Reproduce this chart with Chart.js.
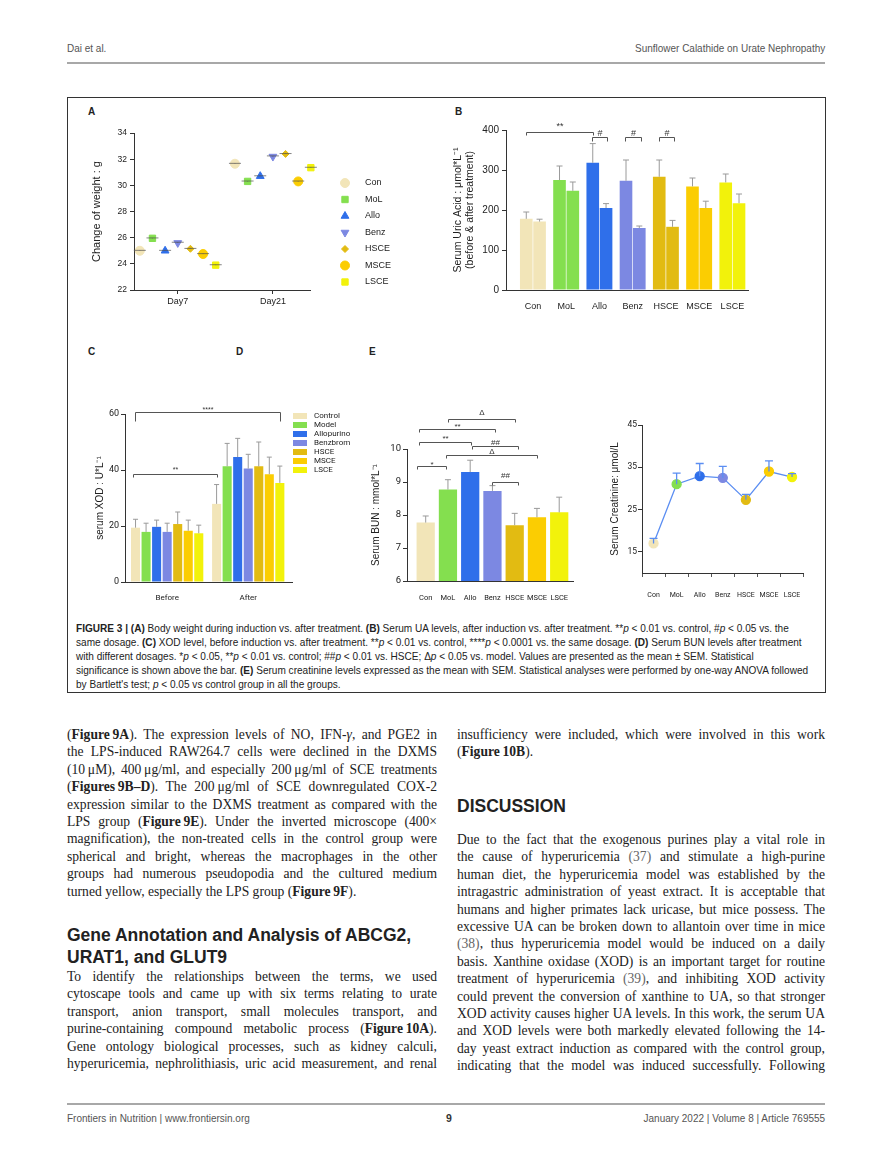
<!DOCTYPE html>
<html>
<head>
<meta charset="UTF-8">
<title>Figure 3 - Sunflower Calathide on Urate Nephropathy</title>
<script src="https://cdn.jsdelivr.net/npm/chart.js@4.4.1/dist/chart.umd.min.js"></script>
<style>
  body { margin: 0; width: 892px; height: 1169px; position: relative; background: #fff; color: #222; font-family: 'Liberation Serif', 'Times New Roman', serif; }
  .hdr { position: absolute; font-family: 'Liberation Sans', Arial, sans-serif; font-size: 10.5px; color: #555; line-height: 14px; white-space: nowrap; }
  .hdr.r { transform: scaleX(0.95); transform-origin: right center; }
  .hdr.lft { transform: scaleX(0.95); transform-origin: left center; }
  .rule { position: absolute; left: 67px; width: 758px; height: 1.5px; background: #a8a8a8; }
  #figbox { position: absolute; left: 67px; top: 97px; width: 757px; height: 594px; border: 1px solid #333; }
  .plabel { position: absolute; font-family: 'Liberation Sans', Arial, sans-serif; font-weight: bold; font-size: 10px; }
  .chart { position: absolute; }
  .caption { position: absolute; left: 76px; top: 621px; font-family: 'Liberation Sans', Arial, sans-serif; font-size: 11px; line-height: 14px; color: #222; white-space: nowrap; transform: scaleX(0.915); transform-origin: left top; }
  .col { position: absolute; font-size: 13.6px; line-height: 17.4px; color: #222; }
  .col .j { text-align: justify; text-align-last: justify; }
  .col .l { text-align: left; }
  .ref { color: #666; }
  .head { position: absolute; font-family: 'Liberation Sans', Arial, sans-serif; font-weight: bold; font-size: 17.5px; line-height: 22px; color: #222; white-space: nowrap; }
</style>
</head>
<body>
  <div class="hdr lft" style="left:67px; top:41px;">Dai et al.</div>
  <div class="hdr r" style="right:67px; top:41px;">Sunflower Calathide on Urate Nephropathy</div>
  <div class="rule" style="top:62px;"></div>

  <div id="figbox"></div>
  <div class="plabel" style="left:88px; top:106px;">A</div>
  <div class="plabel" style="left:455px; top:106px;">B</div>
  <div class="plabel" style="left:88px; top:346px;">C</div>
  <div class="plabel" style="left:236px; top:346px;">D</div>
  <div class="plabel" style="left:369px; top:346px;">E</div>

  <div class="chart" style="left:80px; top:100px; width:330px; height:210px;"><canvas id="weightChart"></canvas></div>
  <div class="chart" style="left:440px; top:100px; width:370px; height:210px;"><canvas id="uaChart"></canvas></div>
  <div class="chart" style="left:80px; top:395px; width:270px; height:210px;"><canvas id="xodChart"></canvas></div>
  <div class="chart" style="left:360px; top:395px; width:250px; height:210px;"><canvas id="bunChart"></canvas></div>
  <div class="chart" style="left:600px; top:410px; width:215px; height:195px;"><canvas id="creaChart"></canvas></div>

  <div class="caption">
    <div><b>FIGURE 3 | (A)</b> Body weight during induction vs. after treatment. <b>(B)</b> Serum UA levels, after induction vs. after treatment. **<i>p</i> &lt; 0.01 vs. control, #<i>p</i> &lt; 0.05 vs. the</div>
    <div>same dosage. <b>(C)</b> XOD level, before induction vs. after treatment. **<i>p</i> &lt; 0.01 vs. control, ****<i>p</i> &lt; 0.0001 vs. the same dosage. <b>(D)</b> Serum BUN levels after treatment</div>
    <div>with different dosages. *<i>p</i> &lt; 0.05, **<i>p</i> &lt; 0.01 vs. control; ##<i>p</i> &lt; 0.01 vs. HSCE; Δ<i>p</i> &lt; 0.05 vs. model. Values are presented as the mean ± SEM. Statistical</div>
    <div>significance is shown above the bar. <b>(E)</b> Serum creatinine levels expressed as the mean with SEM. Statistical analyses were performed by one-way ANOVA followed</div>
    <div>by Bartlett's test; <i>p</i> &lt; 0.05 vs control group in all the groups.</div>
  </div>

  <div class="col" style="left:67px; top:726px; width:370px;">
    <div class="j">(<b>Figure&thinsp;9A</b>). The expression levels of NO, IFN-<i>γ</i>, and PGE2 in</div>
    <div class="j">the LPS-induced RAW264.7 cells were declined in the DXMS</div>
    <div class="j">(10&thinsp;μM), 400&thinsp;μg/ml, and especially 200&thinsp;μg/ml of SCE treatments</div>
    <div class="j">(<b>Figures&thinsp;9B–D</b>). The 200&thinsp;μg/ml of SCE downregulated COX-2</div>
    <div class="j">expression similar to the DXMS treatment as compared with the</div>
    <div class="j">LPS group (<b>Figure&thinsp;9E</b>). Under the inverted microscope (400×</div>
    <div class="j">magnification), the non-treated cells in the control group were</div>
    <div class="j">spherical and bright, whereas the macrophages in the other</div>
    <div class="j">groups had numerous pseudopodia and the cultured medium</div>
    <div class="l">turned yellow, especially the LPS group (<b>Figure&thinsp;9F</b>).</div>
  </div>

  <div class="head" style="left:67px; top:924px;">Gene Annotation and Analysis of ABCG2,<br>URAT1, and GLUT9</div>

  <div class="col" style="left:67px; top:968px; width:370px;">
    <div class="j">To identify the relationships between the terms, we used</div>
    <div class="j">cytoscape tools and came up with six terms relating to urate</div>
    <div class="j">transport, anion transport, small molecules transport, and</div>
    <div class="j">purine-containing compound metabolic process (<b>Figure&thinsp;10A</b>).</div>
    <div class="j">Gene ontology biological processes, such as kidney calculi,</div>
    <div class="j">hyperuricemia, nephrolithiasis, uric acid measurement, and renal</div>
  </div>

  <div class="col" style="left:457px; top:726px; width:368px;">
    <div class="j">insufficiency were included, which were involved in this work</div>
    <div class="l">(<b>Figure&thinsp;10B</b>).</div>
  </div>

  <div class="head" style="left:457px; top:795px;">DISCUSSION</div>

  <div class="col" style="left:457px; top:831px; width:368px;">
    <div class="j">Due to the fact that the exogenous purines play a vital role in</div>
    <div class="j">the cause of hyperuricemia <span class="ref">(37)</span> and stimulate a high-purine</div>
    <div class="j">human diet, the hyperuricemia model was established by the</div>
    <div class="j">intragastric administration of yeast extract. It is acceptable that</div>
    <div class="j">humans and higher primates lack uricase, but mice possess. The</div>
    <div class="j">excessive UA can be broken down to allantoin over time in mice</div>
    <div class="j"><span class="ref">(38)</span>, thus hyperuricemia model would be induced on a daily</div>
    <div class="j">basis. Xanthine oxidase (XOD) is an important target for routine</div>
    <div class="j">treatment of hyperuricemia <span class="ref">(39)</span>, and inhibiting XOD activity</div>
    <div class="j">could prevent the conversion of xanthine to UA, so that stronger</div>
    <div class="j">XOD activity causes higher UA levels. In this work, the serum UA</div>
    <div class="j">and XOD levels were both markedly elevated following the 14-</div>
    <div class="j">day yeast extract induction as compared with the control group,</div>
    <div class="j">indicating that the model was induced successfully. Following</div>
  </div>

  <div class="rule" style="top:1103px;"></div>
  <div class="hdr lft" style="left:67px; top:1111px;">Frontiers in Nutrition | www.frontiersin.org</div>
  <div class="hdr" style="left:446px; top:1111px; color:#333; font-weight:bold;">9</div>
  <div class="hdr r" style="right:67px; top:1111px;">January 2022 | Volume 8 | Article 769555</div>

<script>
  // groups and colours shared by all panels
  const groups = ['Con', 'MoL', 'Allo', 'Benz', 'HSCE', 'MSCE', 'LSCE'];
  const groupNames = ['Control', 'Model', 'Allopurinol', 'Benzbromarone', 'HSCE', 'MSCE', 'LSCE'];
  const groupColors = ['#f2e5b8', '#84df4f', '#2f6fea', '#7c88e2', '#e2bb12', '#fbcd02', '#f2f20b'];

  // (A) body weight
  const dayLabels = ['Day7', 'Day21'];
  const weightDay7 = [25.0, 25.95, 25.0, 25.6, 25.15, 24.75, 23.9];
  const weightDay21 = [31.65, 30.3, 30.7, 32.2, 32.4, 30.3, 31.35];
  const weightErr7 = [0.03, 0.03, 0.03, 0.05, 0.03, 0.03, 0.03];
  const weightErr21 = [0.03, 0.03, 0.03, 0.05, 0.03, 0.03, 0.03];
  const weightMarkers = ['circle', 'rect', 'triangle', 'triangle', 'rectRot', 'circle', 'rect'];
  const weightRotation = [0, 0, 0, 180, 0, 0, 0];

  // (B) serum uric acid, before and after treatment
  const uaBefore = [178, 275, 318, 273, 283, 259, 269];
  const uaBeforeErr = [17, 35, 48, 52, 42, 21, 21];
  const uaAfter = [171, 248, 205, 155, 158, 205, 217];
  const uaAfterErr = [6, 22, 11, 5, 16, 17, 23];
  const uaSig = [
    { from: -0.2, to: 1.8, at: 395, text: '**', tick: 3, gap: 4 },
    { from: 1.78, to: 2.24, at: 382, text: '#', tick: 4, gap: 2 },
    { from: 2.78, to: 3.24, at: 382, text: '#', tick: 4, gap: 2 },
    { from: 3.78, to: 4.24, at: 382, text: '#', tick: 4, gap: 2 }
  ];

  // (C) serum XOD
  const xodPhases = ['Before', 'After'];
  const xodBefore = [19.4, 17.9, 19.7, 17.9, 20.7, 18.3, 17.4];
  const xodBeforeErr = [3.0, 3.1, 2.4, 3.1, 4.3, 3.8, 2.9];
  const xodAfter = [27.9, 41.3, 44.6, 40.5, 41.3, 38.5, 35.4];
  const xodAfterErr = [6.9, 8.2, 6.7, 5.1, 8.7, 6.1, 6.0];
  const xodSig = [
    { from: -0.4, to: 1.39, at: 60.7, text: '****', tick: 9, gap: 1 },
    { from: -0.42, to: 0.62, at: 38.6, text: '**', tick: 3, gap: 3 }
  ];

  // (D) serum BUN
  const bunValues = [7.77, 8.77, 9.30, 8.73, 7.69, 7.93, 8.08];
  const bunErr = [0.20, 0.30, 0.36, 0.16, 0.36, 0.27, 0.46];
  const bunSig = [
    { from: 1.0, to: 4.0, at: 10.9, text: 'Δ', tick: 3, gap: 5 },
    { from: -0.3, to: 3.1, at: 10.6, text: '**', tick: 3, gap: 1 },
    { from: -0.3, to: 2.05, at: 10.2, text: '**', tick: 3, gap: 2 },
    { from: 2.08, to: 4.15, at: 10.08, text: '##', tick: 3, gap: 2 },
    { from: 0.9, to: 5.0, at: 9.82, text: 'Δ', tick: 3, gap: 2 },
    { from: -0.4, to: 0.9, at: 9.5, text: '*', tick: 3, gap: 0 },
    { from: 3.0, to: 4.15, at: 9.0, text: '##', tick: 3, gap: 5 }
  ];

  // (E) serum creatinine
  const creaValues = [17.0, 31.0, 32.9, 32.5, 27.3, 34.0, 32.7];
  const creaErr = [1.2, 2.6, 3.0, 2.7, 1.3, 2.5, 0.8];
  const creaTicks = [15, 25, 35, 45];

  const SANS = "'Liberation Sans', Arial, sans-serif";
  const NARROW = "Roboto, 'Liberation Sans', sans-serif";

  Chart.defaults.animation = false;
  Chart.defaults.color = '#222';
  Chart.defaults.font.family = SANS;
  Chart.defaults.plugins.legend.display = false;
  Chart.defaults.plugins.tooltip.enabled = false;

  const axisGrid = { drawOnChartArea: false, tickLength: 4, color: '#333', lineWidth: 1 };
  const axisBorder = { color: '#333', width: 1 };

  function errorBars(errs, color, cap, width) {
    return {
      id: 'errorBars',
      afterDatasetsDraw(chart) {
        const ctx = chart.ctx;
        const ys = chart.scales.y;
        ctx.save();
        ctx.strokeStyle = color;
        ctx.lineWidth = width;
        errs.forEach((arr, di) => {
          const meta = chart.getDatasetMeta(di);
          const raw = chart.data.datasets[di].data;
          meta.data.forEach((el, j) => {
            const v = typeof raw[j] === 'object' ? raw[j].y : raw[j];
            const yTop = ys.getPixelForValue(v + arr[j]);
            ctx.beginPath();
            ctx.moveTo(el.x, el.y);
            ctx.lineTo(el.x, yTop);
            ctx.moveTo(el.x - cap, yTop);
            ctx.lineTo(el.x + cap, yTop);
            ctx.stroke();
          });
        });
        ctx.restore();
      }
    };
  }

  function sigBrackets(list, font) {
    return {
      id: 'sigBrackets',
      afterDraw(chart) {
        const ctx = chart.ctx;
        const xs = chart.scales.x, ys = chart.scales.y;
        ctx.save();
        ctx.strokeStyle = '#555';
        ctx.lineWidth = 1;
        ctx.fillStyle = '#333';
        ctx.font = font;
        ctx.textAlign = 'center';
        ctx.textBaseline = 'alphabetic';
        list.forEach(s => {
          const x1 = Math.round(xs.getPixelForValue(s.from)) + 0.5;
          const x2 = Math.round(xs.getPixelForValue(s.to)) + 0.5;
          const y = Math.round(ys.getPixelForValue(s.at)) + 0.5;
          ctx.beginPath();
          ctx.moveTo(x1, y + s.tick);
          ctx.lineTo(x1, y);
          ctx.lineTo(x2, y);
          ctx.lineTo(x2, y + s.tick);
          ctx.stroke();
          ctx.fillText(s.text, (x1 + x2) / 2, y - s.gap);
        });
        ctx.restore();
      }
    };
  }

  // (A) scatter of body weight, groups dodged around each day
  const dodge = i => (i - 3) * 0.133;
  const weightLegend = {
    id: 'weightLegend',
    afterDraw(chart) {
      const ctx = chart.ctx;
      const area = chart.chartArea;
      ctx.save();
      ctx.font = '9px ' + SANS;
      ctx.textBaseline = 'middle';
      chart.data.datasets.forEach((ds, i) => {
        const y = area.top + 50 + i * 16.5;
        ctx.fillStyle = ds.backgroundColor;
        ctx.strokeStyle = ds.borderColor;
        Chart.helpers.drawPoint(ctx, { pointStyle: ds.pointStyle, radius: ds.pointRadius, rotation: ds.rotation, borderWidth: 1 }, area.right + 35, y);
        ctx.fillStyle = '#222';
        ctx.fillText(ds.label, area.right + 55, y);
      });
      ctx.restore();
    }
  };

  new Chart(document.getElementById('weightChart'), {
    type: 'scatter',
    data: {
      datasets: groups.map((g, i) => ({
        label: g,
        data: [{ x: 0 + dodge(i), y: weightDay7[i] }, { x: 1 + dodge(i), y: weightDay21[i] }],
        pointStyle: weightMarkers[i],
        rotation: weightRotation[i],
        pointRadius: weightMarkers[i] === 'rectRot' ? 3.5 : 4.5,
        backgroundColor: groupColors[i],
        borderColor: groupColors[i],
        clip: false
      }))
    },
    options: {
      responsive: true,
      maintainAspectRatio: false,
      layout: { padding: { top: 33, right: 100, left: 0, bottom: 0 } },
      scales: {
        x: {
          type: 'linear', min: -0.46, max: 1.39,
          afterBuildTicks: s => { s.ticks = [{ value: 0 }, { value: 1 }]; },
          ticks: { callback: v => dayLabels[v], font: { size: 9 }, padding: 2, maxRotation: 0 },
          grid: axisGrid, border: axisBorder,
          afterFit: s => { s.height = 20; }
        },
        y: {
          min: 22, max: 34,
          ticks: { stepSize: 2, font: { size: 8.5 }, padding: 3 },
          grid: axisGrid, border: axisBorder,
          title: { display: true, text: 'Change of weight : g', font: { size: 11 }, padding: { top: 10, bottom: 0 } },
          afterFit: s => { s.width = 54; }
        }
      }
    },
    plugins: [errorBars(groups.map((g, i) => [weightErr7[i], weightErr21[i]]), 'rgba(80,80,80,0.7)', 6, 1), weightLegend]
  });

  // (B) serum uric acid
  new Chart(document.getElementById('uaChart'), {
    type: 'bar',
    data: {
      datasets: [
        { label: 'before', data: uaBefore.map((v, i) => ({ x: i, y: v })), backgroundColor: groupColors },
        { label: 'after', data: uaAfter.map((v, i) => ({ x: i, y: v })), backgroundColor: groupColors }
      ]
    },
    options: {
      responsive: true,
      maintainAspectRatio: false,
      categoryPercentage: 0.8,
      barPercentage: 0.95,
      layout: { padding: { top: 30, right: 62, left: 0, bottom: 0 } },
      scales: {
        x: {
          type: 'linear', offset: false, min: -0.81, max: 6.47,
          afterBuildTicks: s => { s.ticks = groups.map((g, i) => ({ value: i })); },
          ticks: { callback: v => groups[v], font: { size: 9 }, padding: 3, maxRotation: 0, autoSkip: false },
          grid: { display: false }, border: axisBorder,
          afterFit: s => { s.height = 20; }
        },
        y: {
          min: 0, max: 400,
          ticks: { stepSize: 100, font: { size: 10 }, padding: 3 },
          grid: axisGrid, border: axisBorder,
          title: { display: true, text: ['Serum Uric Acid : μmol*L⁻¹', '(before & after treatment)'], font: { size: 10.5, lineHeight: 1.15 }, padding: { top: 12, bottom: 0 } },
          afterFit: s => { s.width = 66; }
        }
      }
    },
    plugins: [errorBars([uaBeforeErr, uaAfterErr], '#9a9a9a', 3, 1), sigBrackets(uaSig, '9px ' + SANS)]
  });

  // (C) serum XOD before / after
  const xodLegend = {
    id: 'xodLegend',
    afterDraw(chart) {
      const ctx = chart.ctx;
      const area = chart.chartArea;
      ctx.save();
      ctx.font = '8px ' + NARROW;
      ctx.textBaseline = 'middle';
      groupNames.forEach((name, i) => {
        const y = area.top + 2 + i * 9;
        ctx.fillStyle = groupColors[i];
        ctx.fillRect(area.right + 1, y - 3, 14, 6);
        ctx.fillStyle = '#222';
        ctx.fillText(name, area.right + 22, y);
      });
      ctx.restore();
    }
  };

  new Chart(document.getElementById('xodChart'), {
    type: 'bar',
    data: {
      datasets: groupNames.map((g, i) => ({
        label: g,
        data: [{ x: 0, y: xodBefore[i] }, { x: 1, y: xodAfter[i] }],
        backgroundColor: groupColors[i]
      }))
    },
    options: {
      responsive: true,
      maintainAspectRatio: false,
      categoryPercentage: 0.91,
      barPercentage: 0.86,
      layout: { padding: { top: 19, right: 58, left: 0, bottom: 0 } },
      scales: {
        x: {
          type: 'linear', offset: false, min: -0.52, max: 1.54,
          afterBuildTicks: s => { s.ticks = [{ value: 0 }, { value: 1 }]; },
          ticks: { callback: v => xodPhases[v], font: { size: 8, family: NARROW }, padding: 3, maxRotation: 0 },
          grid: { display: false }, border: axisBorder,
          afterFit: s => { s.height = 23; }
        },
        y: {
          min: 0, max: 60,
          ticks: { stepSize: 20, font: { size: 9, family: NARROW }, padding: 2 },
          grid: axisGrid, border: axisBorder,
          title: { display: true, text: 'serum XOD : U*L⁻¹', font: { size: 10 }, padding: { top: 14, bottom: 0 } },
          afterFit: s => { s.width = 45; }
        }
      }
    },
    plugins: [errorBars(groupNames.map((g, i) => [xodBeforeErr[i], xodAfterErr[i]]), '#9a9a9a', 2.5, 1),
              sigBrackets(xodSig, '7px ' + SANS), xodLegend]
  });

  // (D) serum BUN
  new Chart(document.getElementById('bunChart'), {
    type: 'bar',
    data: {
      datasets: [{ label: 'BUN', data: bunValues.map((v, i) => ({ x: i, y: v })), backgroundColor: groupColors }]
    },
    options: {
      responsive: true,
      maintainAspectRatio: false,
      categoryPercentage: 0.82,
      barPercentage: 1,
      layout: { padding: { top: 54, right: 37, left: 0, bottom: 0 } },
      scales: {
        x: {
          type: 'linear', offset: false, min: -0.84, max: 6.62,
          afterBuildTicks: s => { s.ticks = groups.map((g, i) => ({ value: i })); },
          ticks: { callback: v => groups[v], font: { size: 7.5, family: NARROW }, padding: 5, maxRotation: 0, autoSkip: false },
          grid: { display: false }, border: axisBorder,
          afterFit: s => { s.height = 24; }
        },
        y: {
          min: 6, max: 10,
          ticks: { stepSize: 1, font: { size: 9.5, family: NARROW }, padding: 2 },
          grid: axisGrid, border: axisBorder,
          title: { display: true, text: 'Serum BUN : mmol*L⁻¹', font: { size: 10 }, padding: { top: 10, bottom: 0 } },
          afterFit: s => { s.width = 47; }
        }
      }
    },
    plugins: [errorBars([bunErr], '#9a9a9a', 3, 1), sigBrackets(bunSig, '8px ' + SANS)]
  });

  // (E) serum creatinine
  new Chart(document.getElementById('creaChart'), {
    type: 'line',
    data: {
      labels: groups,
      datasets: [{
        label: 'Creatinine',
        data: creaValues,
        borderColor: '#5b8ef2',
        borderWidth: 1.3,
        pointRadius: 4.5,
        pointBackgroundColor: groupColors,
        pointBorderColor: groupColors,
        tension: 0
      }]
    },
    options: {
      responsive: true,
      maintainAspectRatio: false,
      layout: { padding: { top: 15, right: 10, left: 0, bottom: 0 } },
      scales: {
        x: {
          type: 'category', offset: true,
          ticks: { font: { size: 7, family: NARROW }, padding: 14, maxRotation: 0, autoSkip: false },
          grid: { offset: true, drawOnChartArea: false, tickLength: 4, color: '#555' }, border: axisBorder,
          afterFit: s => { s.height = 32; }
        },
        y: {
          min: 10, max: 45,
          afterBuildTicks: s => { s.ticks = creaTicks.map(v => ({ value: v })); },
          ticks: { font: { size: 8.5, family: NARROW }, padding: 1 },
          grid: axisGrid, border: axisBorder,
          title: { display: true, text: 'Serum Creatinine: μmol/L', font: { size: 10 }, padding: { top: 9, bottom: 0 } },
          afterFit: s => { s.width = 42; }
        }
      }
    },
    plugins: [errorBars([creaErr], '#5b8ef2', 4, 1.3)]
  });
</script>
</body>
</html>
